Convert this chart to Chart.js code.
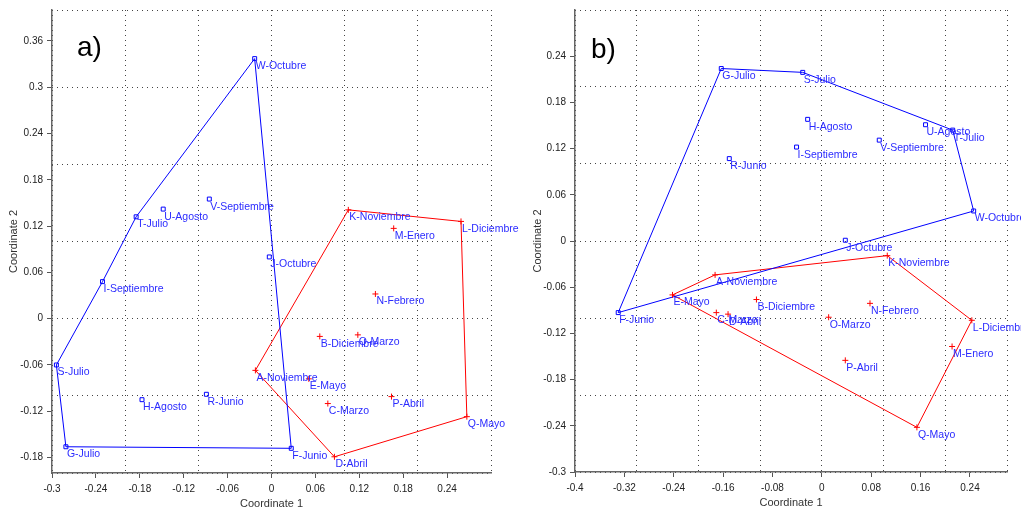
<!DOCTYPE html>
<html>
<head>
<meta charset="utf-8">
<title>Coordinates a) b)</title>
<script src="https://cdn.jsdelivr.net/npm/chart.js@4.4.1/dist/chart.umd.min.js"></script>
<style>
  body { margin: 0; background: #fff; }
  .panel { position: absolute; top: 0; height: 511px; }
  #wrapA { left: 0; width: 520px; }
  #wrapB { left: 510px; width: 511px; }
</style>
</head>
<body>
<div class="panel" id="wrapA"><canvas id="chartA"></canvas></div>
<div class="panel" id="wrapB"><canvas id="chartB"></canvas></div>
<script>
// panel a)
const aBlueNames = ["W-Octubre", "T-Julio", "U-Agosto", "V-Septiembre", "J-Octubre", "I-Septiembre", "S-Julio", "H-Agosto", "R-Junio", "G-Julio", "F-Junio"];
const aBlueX = [-0.023, -0.185, -0.148, -0.085, -0.003, -0.231, -0.294, -0.177, -0.089, -0.281, 0.027];
const aBlueY = [0.337, 0.132, 0.142, 0.155, 0.080, 0.048, -0.060, -0.105, -0.098, -0.166, -0.168];
const aBlueHull = ["W-Octubre", "F-Junio", "G-Julio", "S-Julio", "I-Septiembre", "T-Julio", "W-Octubre"];

const aRedNames = ["K-Noviembre", "L-Diciembre", "M-Enero", "N-Febrero", "O-Marzo", "B-Diciembre", "A-Noviembre", "E-Mayo", "P-Abril", "C-Marzo", "Q-Mayo", "D-Abril"];
const aRedX = [0.105, 0.259, 0.167, 0.142, 0.118, 0.066, -0.022, 0.051, 0.164, 0.077, 0.267, 0.086];
const aRedY = [0.141, 0.126, 0.117, 0.032, -0.021, -0.023, -0.067, -0.078, -0.101, -0.110, -0.127, -0.179];
const aRedHull = ["K-Noviembre", "L-Diciembre", "Q-Mayo", "D-Abril", "A-Noviembre", "K-Noviembre"];

// panel b)
const bBlueNames = ["G-Julio", "S-Julio", "H-Agosto", "R-Junio", "I-Septiembre", "V-Septiembre", "U-Agosto", "T-Julio", "W-Octubre", "J-Octubre", "F-Junio"];
const bBlueX = [-0.163, -0.031, -0.023, -0.150, -0.041, 0.093, 0.168, 0.212, 0.246, 0.038, -0.330];
const bBlueY = [0.224, 0.219, 0.158, 0.107, 0.122, 0.131, 0.151, 0.144, 0.039, 0.001, -0.093];
const bBlueHull = ["G-Julio", "S-Julio", "T-Julio", "W-Octubre", "F-Junio", "G-Julio"];

const bRedNames = ["K-Noviembre", "L-Diciembre", "M-Enero", "Q-Mayo", "N-Febrero", "O-Marzo", "P-Abril", "B-Diciembre", "A-Noviembre", "E-Mayo", "C-Marzo", "D-Abril"];
const bRedX = [0.106, 0.243, 0.211, 0.154, 0.078, 0.011, 0.038, -0.106, -0.173, -0.242, -0.171, -0.152];
const bRedY = [-0.019, -0.103, -0.137, -0.242, -0.081, -0.099, -0.155, -0.076, -0.044, -0.070, -0.093, -0.095];
const bRedHull = ["K-Noviembre", "L-Diciembre", "Q-Mayo", "E-Mayo", "A-Noviembre", "K-Noviembre"];

// axis ticks (labelled) and dotted grid positions
const aXTicks = [-0.3, -0.24, -0.18, -0.12, -0.06, 0, 0.06, 0.12, 0.18, 0.24];
const aYTicks = [-0.18, -0.12, -0.06, 0, 0.06, 0.12, 0.18, 0.24, 0.3, 0.36];
const aXGrid = [-0.3, -0.2, -0.1, 0, 0.1, 0.2, 0.3];
const aYGrid = [-0.2, -0.1, 0, 0.1, 0.2, 0.3, 0.4];
const bXTicks = [-0.4, -0.32, -0.24, -0.16, -0.08, 0, 0.08, 0.16, 0.24];
const bYTicks = [-0.3, -0.24, -0.18, -0.12, -0.06, 0, 0.06, 0.12, 0.18, 0.24];
const bXGrid = [-0.4, -0.3, -0.2, -0.1, 0, 0.1, 0.2, 0.3];
const bYGrid = [-0.3, -0.2, -0.1, 0, 0.1, 0.2, 0.3];

const FONT = '"Liberation Sans", Arial, sans-serif';
Chart.defaults.font.family = FONT;
Chart.defaults.animation = false;

function toPoints(xs, ys) {
  return xs.map((x, i) => ({ x: x, y: ys[i] }));
}

function hullPoints(names, xs, ys, hull) {
  return hull.map((n) => {
    const i = names.indexOf(n);
    return { x: xs[i], y: ys[i] };
  });
}

// blue/red point names written next to each marker
const pointLabels = {
  id: "pointLabels",
  afterDatasetsDraw(chart) {
    const ctx = chart.ctx;
    ctx.save();
    ctx.font = "10.5px " + FONT;
    ctx.fillStyle = "#2b2bff";
    ctx.textAlign = "left";
    ctx.textBaseline = "alphabetic";
    chart.data.datasets.forEach((ds, i) => {
      if (!ds.names) return;
      chart.getDatasetMeta(i).data.forEach((pt, j) => {
        ctx.fillText(ds.names[j], pt.x + 1, pt.y + 10.5);
      });
    });
    ctx.restore();
  },
};

const panelTag = {
  id: "panelTag",
  afterDraw(chart, args, opts) {
    const ctx = chart.ctx;
    ctx.save();
    ctx.font = "28px " + FONT;
    ctx.fillStyle = "#000";
    ctx.textAlign = "left";
    ctx.textBaseline = "alphabetic";
    ctx.fillText(opts.text, opts.x, opts.y);
    ctx.restore();
  },
};

function makeScales(c) {
  const tickAxis = (ticks, size, horizontal, titlePad) => ({
    type: "linear",
    position: horizontal ? "bottom" : "left",
    min: horizontal ? c.xMin : c.yMin,
    max: horizontal ? c.xMax : c.yMax,
    afterBuildTicks: (s) => { s.ticks = ticks.map((v) => ({ value: v })); },
    afterFit: (s) => { if (horizontal) s.height = size; else s.width = size; },
    grid: { drawOnChartArea: false, drawTicks: true, tickLength: 5, tickColor: "#555", tickWidth: 1 },
    border: { display: true, color: "#666", width: 1.5 },
    ticks: {
      color: "#222",
      padding: horizontal ? 5 : 4,
      font: { size: 10 },
      maxRotation: 0,
      autoSkip: false,
      callback: (v) => String(v),
    },
    title: {
      display: true,
      text: horizontal ? "Coordinate 1" : "Coordinate 2",
      color: "#333",
      font: { size: 11 },
      padding: titlePad,
    },
  });
  const gridAxis = (ticks, horizontal) => ({
    type: "linear",
    position: horizontal ? "bottom" : "left",
    min: horizontal ? c.xMin : c.yMin,
    max: horizontal ? c.xMax : c.yMax,
    afterBuildTicks: (s) => { s.ticks = ticks.map((v) => ({ value: v })); },
    afterFit: (s) => { if (horizontal) s.height = 0; else s.width = 0; },
    grid: { drawOnChartArea: true, drawTicks: false, color: "#444", lineWidth: 1 },
    border: { display: false, dash: [1, 4] },
    ticks: { display: false },
  });
  return {
    x: tickAxis(c.xTicks, 38, true, { top: 0, bottom: 0 }),
    y: tickAxis(c.yTicks, c.yWidth, false, { top: c.yTitlePad, bottom: 0 }),
    xg: gridAxis(c.xGrid, true),
    yg: gridAxis(c.yGrid, false),
  };
}

function makeDatasets(p) {
  return [
    {
      data: toPoints(p.blueX, p.blueY),
      names: p.blueNames,
      pointStyle: "rect",
      pointRadius: 2.8,
      pointBorderWidth: 1,
      borderColor: "#0000ff",
      backgroundColor: "rgba(255,255,255,0)",
    },
    {
      data: toPoints(p.redX, p.redY),
      names: p.redNames,
      pointStyle: "cross",
      pointRadius: 3,
      pointBorderWidth: 1,
      borderColor: "#ff0000",
      backgroundColor: "#ff0000",
    },
    {
      data: hullPoints(p.blueNames, p.blueX, p.blueY, p.blueHull),
      showLine: true,
      pointRadius: 0,
      borderColor: "#0000ff",
      borderWidth: 1,
      fill: false,
    },
    {
      data: hullPoints(p.redNames, p.redX, p.redY, p.redHull),
      showLine: true,
      pointRadius: 0,
      borderColor: "#ff0000",
      borderWidth: 1,
      fill: false,
    },
  ];
}

function makeChart(id, data, scaleCfg, padding, tag) {
  return new Chart(document.getElementById(id), {
    type: "scatter",
    data: { datasets: data },
    options: {
      responsive: true,
      maintainAspectRatio: false,
      layout: { padding: padding },
      plugins: {
        legend: { display: false },
        tooltip: { enabled: false },
        panelTag: tag,
      },
      scales: makeScales(scaleCfg),
    },
    plugins: [pointLabels, panelTag],
  });
}

makeChart(
  "chartA",
  makeDatasets({
    blueNames: aBlueNames, blueX: aBlueX, blueY: aBlueY, blueHull: aBlueHull,
    redNames: aRedNames, redX: aRedX, redY: aRedY, redHull: aRedHull,
  }),
  {
    xMin: -0.3, xMax: 0.3, yMin: -0.2, yMax: 0.4,
    xTicks: aXTicks, yTicks: aYTicks, xGrid: aXGrid, yGrid: aYGrid,
    yWidth: 52, yTitlePad: 7,
  },
  { left: 0, top: 9, right: 29, bottom: 0 },
  { text: "a)", x: 77, y: 56 }
);

makeChart(
  "chartB",
  makeDatasets({
    blueNames: bBlueNames, blueX: bBlueX, blueY: bBlueY, blueHull: bBlueHull,
    redNames: bRedNames, redX: bRedX, redY: bRedY, redHull: bRedHull,
  }),
  {
    xMin: -0.4, xMax: 0.3, yMin: -0.3, yMax: 0.3,
    xTicks: bXTicks, yTicks: bYTicks, xGrid: bXGrid, yGrid: bYGrid,
    yWidth: 65, yTitlePad: 21,
  },
  { left: 0, top: 8, right: 14, bottom: 1 },
  { text: "b)", x: 81, y: 58 }
);
</script>
</body>
</html>
